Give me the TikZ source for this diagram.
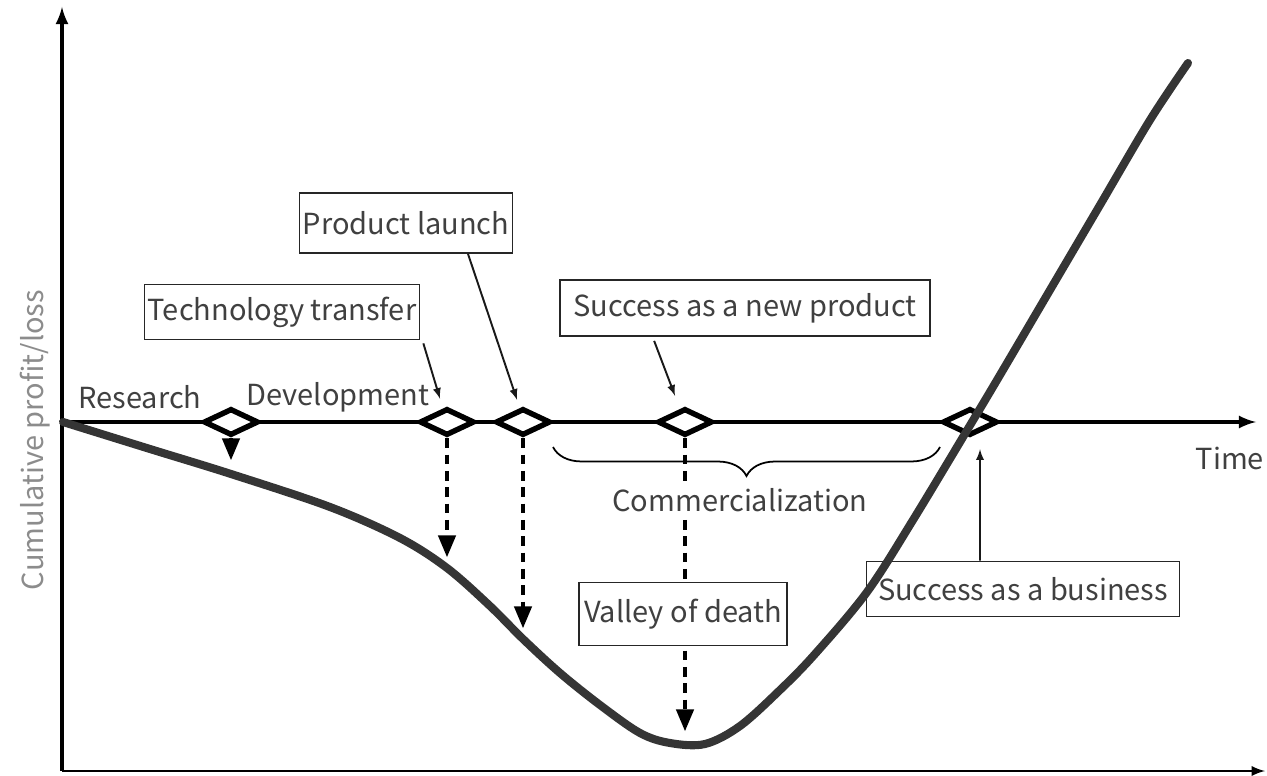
\documentclass[tikz,border=0pt]{standalone}
\usepackage{fontspec}
\setmainfont{Noto Sans CJK JP}
\usetikzlibrary{shapes.geometric, arrows, positioning, calc, decorations.pathreplacing}
\tikzset{
  milestone/.style={diamond,draw=black,line width=3.1pt,fill=white,minimum width=1.1cm,minimum height=0.54cm,inner sep=0pt},
  callout/.style={rectangle,draw=black!85,line width=1pt,fill=white,text=black!75,inner sep=0pt},
  phase/.style={text=black!75,inner sep=1pt},
  pointer/.style={line width=1.1pt,-latex,black!90},
  drop/.style={line width=1.9pt,dash pattern=on 5.5pt off 3.8pt,-triangle 45,black},
  axis/.style={line width=2.3pt,-latex,black},
}
\pgfdeclarelayer{back}
\pgfsetlayers{back,main}
\definecolor{curvegray}{HTML}{353535}

\begin{document}
\begin{tikzpicture}[x=0.02cm,y=-0.02cm,font=\fontsize{16.5}{19}\selectfont]
	    \useasboundingbox (0,0) rectangle (1267,776);
	    % axes
	    \coordinate (O) at (62,771);
	    \coordinate (Ytop) at (62,7);
	    \coordinate (Xend) at (1265,771);
	    \coordinate (T0) at (62,422);
	    \coordinate (Tend) at (1256,422);
	    \draw[axis] (O) -- (Ytop);
	    \draw[axis,line width=1.6pt] (O) -- (Xend);
	    \draw[axis] (T0) -- (Tend);
	    \node[text=black!45,rotate=90] (Y) at (35,440) {Cumulative profit/loss};
	    \node[phase,below left=0.45cm and -0.2cm of Tend] (Tm) {Time};
	    % milestones
	    \node[milestone] (M1) at (231,422) {};
	    \node[milestone] (M2) at (447,422) {};
	    \node[milestone] (M3) at (523,422) {};
	    \node[milestone] (M4) at (685,422) {};
	    \node[milestone] (M5) at (970,422) {};
	    \node[phase] (R) at (140,397) {Research};
	    \node[phase] (D) at (338,397) {Development};
	    % commercialization
	    \coordinate (B1) at (553,447);
	    \coordinate (B2) at (940,447);
	    \draw[line width=1pt,decorate,decoration={brace,mirror,amplitude=0.58cm}] (B1) -- (B2);
	    \node[phase,fill=white] (C) at (740,500) {Commercialization};
	    % call-outs
	    \node[callout,minimum width=5.5cm,minimum height=1.1cm] (T) at (282,312) {Technology transfer};
	    \node[callout,minimum width=4.26cm,minimum height=1.2cm] (P) at (406,223) {Product launch};
	    \node[callout,minimum width=7.4cm,minimum height=1.12cm] (N) at (745,308) {Success as a new product};
	    \node[callout,minimum width=4.16cm,minimum height=1.26cm] (V) at (683,614) {Valley of death};
	    \node[callout,minimum width=6.26cm,minimum height=1.1cm] (S) at (1023,589) {Success as a business};
	    \draw[pointer] ([xshift=0.06cm,yshift=-0.06cm]T.south east) -- ([xshift=-0.14cm,yshift=0.14cm]M2.north);
	    \draw[pointer] ([xshift=1.24cm]P.south) -- ([xshift=-0.12cm,yshift=0.12cm]M3.north);
	    \draw[pointer] ([xshift=1.9cm,yshift=-0.08cm]N.south west) -- ([xshift=-0.2cm,yshift=0.2cm]M4.north);
	    \draw[pointer] ([xshift=-0.86cm]S.north) -- ([xshift=0.2cm,yshift=-0.22cm]M5.south);
	    % drops to the curve
	    \coordinate (d1) at (231,460);
	    \coordinate (d2) at (447,557);
	    \coordinate (d3) at (523,628);
	    \coordinate (d4) at (685,731);
	    \begin{pgfonlayer}{back}
	    \draw[drop] (M1.south) -- (d1);
	    \draw[drop] (M2.south) -- (d2);
	    \draw[drop] (M3.south) -- (d3);
	    \draw[drop] (M4.south) -- (d4);
	    \end{pgfonlayer}
	    % cumulative profit/loss
	    \draw[curvegray,line width=4.6pt,line cap=round] plot[smooth,tension=0.55] coordinates {
	      (63,422) (150,449) (231,474) (330,507) (400,538) (447,568) (490,606) (523,639)
	      (560,673) (600,705) (640,733) (670,743) (705,744) (740,726) (780,690) (815,654)
	      (867,592) (913,520) (972,422) (1000,375) (1050,290)
	      (1100,205) (1150,120) (1188,63)};
	\end{tikzpicture}
\end{document}
